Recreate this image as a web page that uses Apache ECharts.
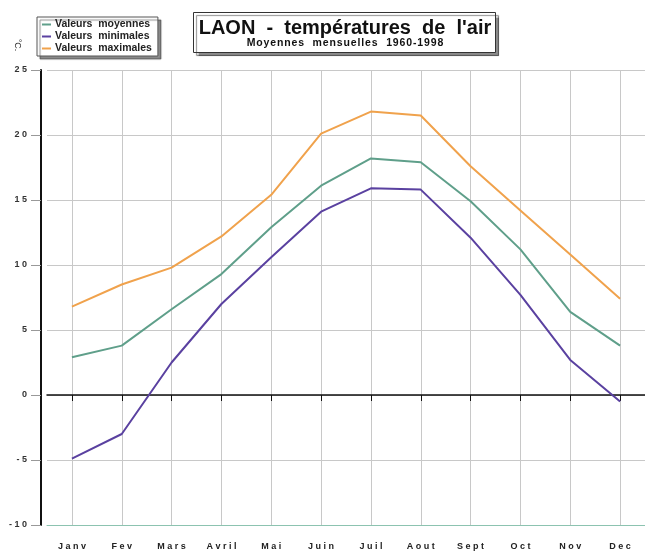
<!DOCTYPE html>
<html>
<head>
<meta charset="utf-8">
<script src="https://cdn.jsdelivr.net/npm/echarts@6/dist/echarts.min.js"></script>
<style>
  html, body { margin: 0; padding: 0; background: #fff; }
  #chart { width: 645px; height: 552px; }
</style>
</head>
<body>
<div id="chart"></div>
<script>
// mois
const months = ['Janv', 'Fev', 'Mars', 'Avril', 'Mai', 'Juin', 'Juil', 'Aout', 'Sept', 'Oct', 'Nov', 'Dec']
// températures (°C)
const moyennes = [2.9, 3.8, 6.6, 9.3, 12.9, 16.1, 18.2, 17.9, 14.9, 11.2, 6.4, 3.8]
const minimales = [-4.9, -3.0, 2.5, 7.0, 10.6, 14.1, 15.9, 15.8, 12.1, 7.7, 2.7, -0.5]
const maximales = [6.8, 8.5, 9.8, 12.2, 15.4, 20.1, 21.8, 21.5, 17.6, 14.2, 10.8, 7.4]
const yTicks = [-10, -5, 0, 5, 10, 15, 20, 25]

const font = '"Liberation Sans", Arial, sans-serif'
const spaced = s => String(s).split('').join(' ')
const tracked = s => String(s).split('').join('\u200A')

let chartDom = document.getElementById('chart')
let myChart = echarts.init(chartDom)

let options = {
  animation: false,
  grid: { left: 47, right: -2, top: 70, bottom: 27 },
  legend: {
    orient: 'vertical',
    left: 37,
    top: 17,
    padding: [2, 6, 2, 5],
    itemGap: 1,
    itemWidth: 9,
    itemHeight: 2,
    icon: 'rect',
    backgroundColor: '#fff',
    borderColor: '#555',
    borderWidth: 1,
    shadowColor: 'rgba(0,0,0,0.45)',
    shadowOffsetX: 3,
    shadowOffsetY: 3,
    shadowBlur: 1,
    textStyle: { fontFamily: font, fontWeight: 'bold', fontSize: 10.5, lineHeight: 10.5, color: '#222', padding: [0, 0, 0, -1] },
    data: ['Valeurs  moyennes', 'Valeurs  minimales', 'Valeurs  maximales']
  },
  graphic: [
    {
      type: 'rect',
      left: 193, top: 12,
      shape: { width: 302, height: 40 },
      style: { fill: '#fff', stroke: '#333', lineWidth: 1, shadowColor: 'rgba(0,0,0,0.45)', shadowOffsetX: 3, shadowOffsetY: 3, shadowBlur: 1 }
    },
    {
      type: 'text',
      x: 345, y: 28,
      style: { text: "LAON  -  températures  de  l'air", font: 'bold 20px ' + font, fill: '#111', align: 'center', verticalAlign: 'middle' }
    },
    {
      type: 'text',
      x: 345, y: 43,
      style: { text: tracked('Moyennes  mensuelles  1960-1998'), font: 'bold 10.5px ' + font, fill: '#111', align: 'center', verticalAlign: 'middle' }
    },
    {
      type: 'text',
      x: 17, y: 45,
      rotation: -Math.PI / 2,
      style: { text: '°C.', font: '9px ' + font, fill: '#333', align: 'center', verticalAlign: 'middle' }
    }
  ],
  xAxis: [
    {
      type: 'category',
      data: months,
      position: 'top',
      axisLine: { onZero: true, lineStyle: { color: '#111', width: 1.5 } },
      axisTick: { show: true, inside: true, length: 6, alignWithLabel: true, lineStyle: { color: '#111', width: 1 } },
      axisLabel: { show: false },
      splitLine: { show: false }
    },
    {
      type: 'category',
      data: months,
      position: 'bottom',
      axisLine: { onZero: false, lineStyle: { color: '#8cc3b0', width: 1 } },
      axisTick: { show: false },
      axisLabel: {
        margin: 17,
        fontFamily: font, fontWeight: 'bold', fontSize: 9, color: '#222',
        formatter: v => spaced(v)
      },
      splitLine: { show: true, alignWithLabel: true, lineStyle: { color: '#c8c8c8', width: 1 } }
    }
  ],
  yAxis: {
    type: 'value',
    min: yTicks[0],
    max: yTicks[yTicks.length - 1],
    interval: 5,
    offset: 6,
    axisLine: { show: true, lineStyle: { color: '#111', width: 2 } },
    axisTick: { show: true, length: 10, lineStyle: { color: '#999' } },
    axisLabel: {
      margin: 14,
      fontFamily: font, fontWeight: 'bold', fontSize: 9, color: '#333',
      formatter: v => (v < 0 ? '- ' + spaced(-v) : spaced(v))
    },
    splitLine: { show: true, lineStyle: { color: '#c8c8c8', width: 1 } }
  },
  series: [
    {
      name: 'Valeurs  moyennes',
      type: 'line',
      xAxisIndex: 1,
      data: moyennes,
      symbol: 'none',
      color: '#5f9f8a',
      lineStyle: { width: 2 }
    },
    {
      name: 'Valeurs  minimales',
      type: 'line',
      xAxisIndex: 1,
      data: minimales,
      symbol: 'none',
      color: '#5a41a0',
      lineStyle: { width: 2 }
    },
    {
      name: 'Valeurs  maximales',
      type: 'line',
      xAxisIndex: 1,
      data: maximales,
      symbol: 'none',
      color: '#f0a24c',
      lineStyle: { width: 2 }
    }
  ]
}
myChart.setOption(options)
</script>
</body>
</html>
